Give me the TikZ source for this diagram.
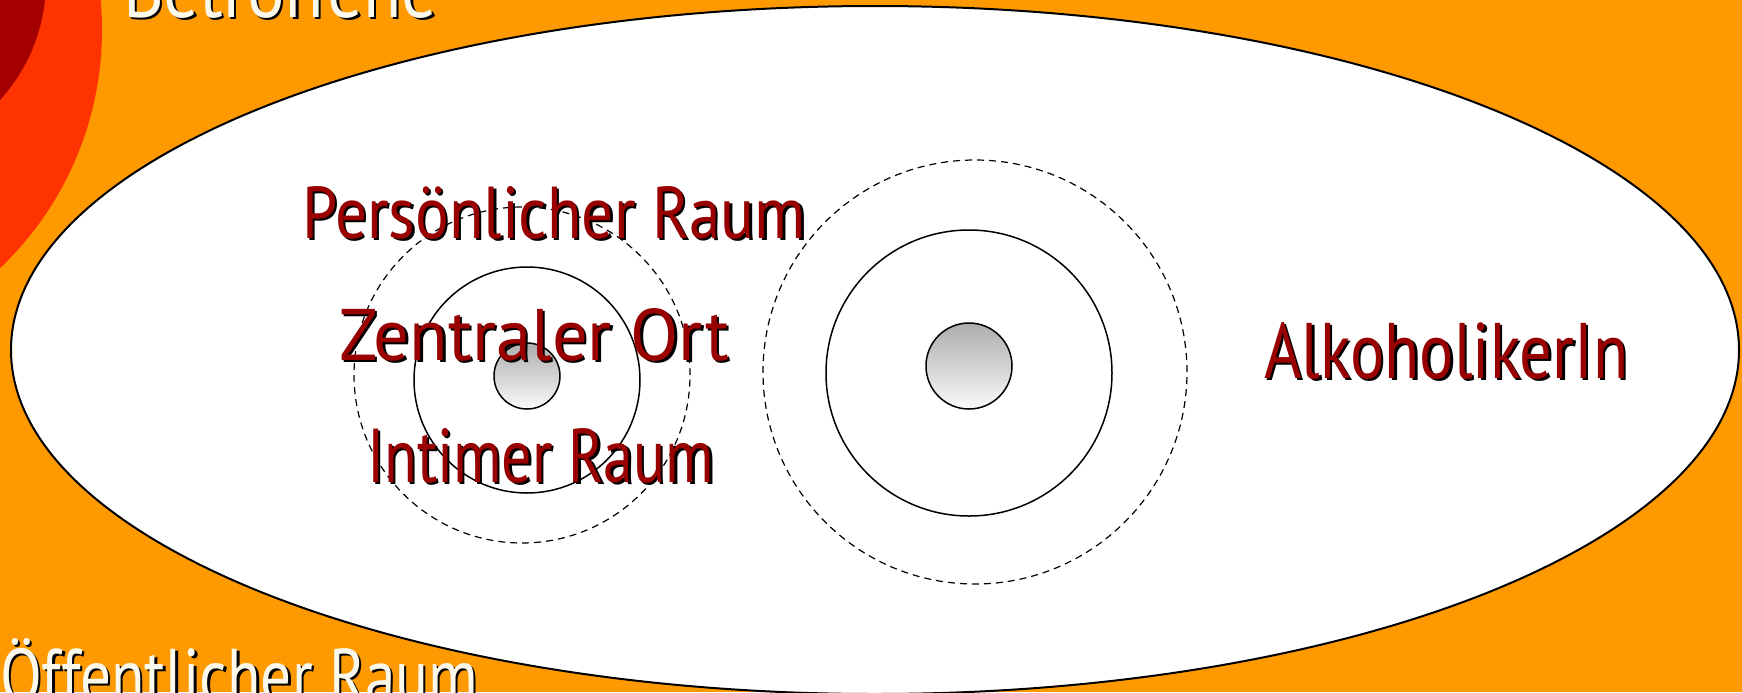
\documentclass[tikz,border=0pt]{standalone}
\usepackage{fontspec}
\setmainfont{PT Sans}
\usepackage{graphicx}
\definecolor{bgorange}{HTML}{FF9900}
\definecolor{redorange}{HTML}{FF3300}
\definecolor{deepred}{HTML}{A50000}
\definecolor{txtred}{HTML}{990000}
\definecolor{txtwhite}{HTML}{FBF8EC}
\tikzset{
  lbl/.style={anchor=base west, inner sep=0pt, outer sep=0pt},
  solidring/.style={draw=black, line width=0.75pt},
  dashring/.style={draw=black, line width=0.6pt, dash pattern=on 3.5pt off 2.5pt},
  core/.style={draw=black, line width=0.75pt, top color=black!32, bottom color=black!2},
}
\newcommand{\fitbox}[3]{\resizebox{#1}{#2}{#3}}
\begin{document}
\begin{tikzpicture}[x=0.5pt,y=-0.5pt]
\useasboundingbox (0,0) rectangle (1742,692);
\clip (0,0) rectangle (1742,692);
\fill[bgorange] (0,0) rectangle (1742,692);
\fill[redorange] (-227,30) circle[radius=164.5pt];
\fill[deepred] (-131,-19) circle[radius=88.5pt];
% big ellipse
\draw[fill=white, line width=1pt] (875,350) ellipse[x radius=432pt, y radius=172pt];
% left group
\draw[dashring] (522,375) circle[radius=84pt];
\draw[solidring] (527,380) circle[radius=56.5pt];
\draw[core] (527,376) circle[radius=16.5pt];
% right group
\draw[dashring] (975,372) circle[radius=106pt];
\draw[solidring] (969,373) circle[radius=71.5pt];
\draw[core] (969,366) circle[radius=21.5pt];
% labels
\node[lbl, text=black] (pers-sh) at (304.5,240.5) {\fitbox{252pt}{26pt}{Persönlicher Raum}};
\node[lbl, text=txtred] (pers) at (302,238) {\fitbox{252pt}{26pt}{Persönlicher Raum}};
\node[lbl, text=black] (zent-sh) at (341.5,362.5) {\fitbox{195pt}{26pt}{Zentraler Ort}};
\node[lbl, text=txtred] (zent) at (339,360) {\fitbox{195pt}{26pt}{Zentraler Ort}};
\node[lbl, text=black] (intim-sh) at (369.5,484.5) {\fitbox{173.5pt}{27pt}{Intimer Raum}};
\node[lbl, text=txtred] (intim) at (367,482) {\fitbox{173.5pt}{27pt}{Intimer Raum}};
\node[lbl, text=black] (alk-sh) at (1266.5,380.5) {\fitbox{182pt}{28pt}{AlkoholikerIn}};
\node[lbl, text=txtred] (alk) at (1264,378) {\fitbox{182pt}{28pt}{AlkoholikerIn}};
\node[lbl, text=black] (betr-sh) at (125.5,19.5) {\fitbox{157pt}{28pt}{Betroffene}};
\node[lbl, text=txtwhite] (betr) at (123,17) {\fitbox{157pt}{28pt}{Betroffene}};
\node[lbl, text=black] (oeff-sh) at (2.5,704.5) {\fitbox{239pt}{32pt}{Öffentlicher Raum}};
\node[lbl, text=txtwhite] (oeff) at (0,702) {\fitbox{239pt}{32pt}{Öffentlicher Raum}};
\end{tikzpicture}
\end{document}
